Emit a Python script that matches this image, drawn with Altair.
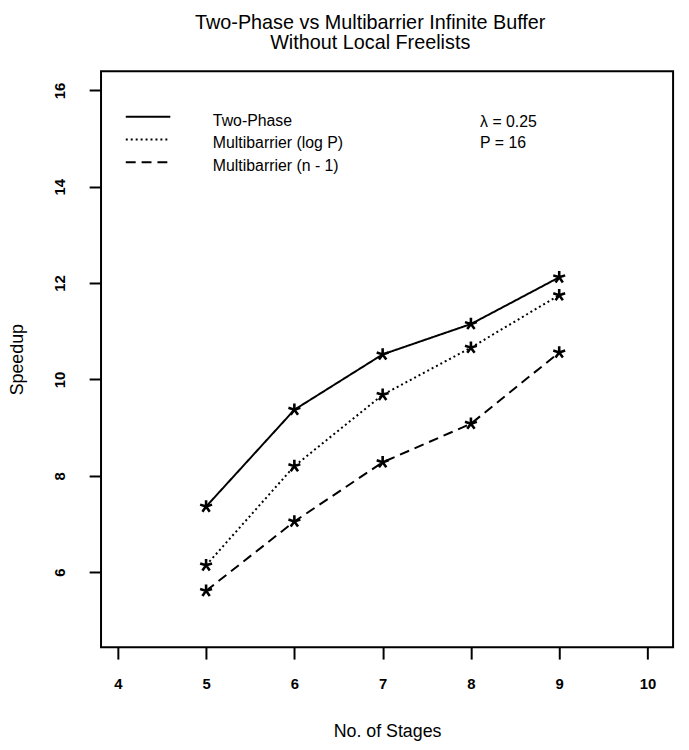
import altair as alt
import pandas as pd

# ---- data ----
stages = [5, 6, 7, 8, 9]
series_names = ["Two-Phase", "Multibarrier (log P)", "Multibarrier (n - 1)"]
two_phase = [7.36, 9.37, 10.52, 11.15, 12.12]
multi_logp = [6.14, 8.20, 9.68, 10.66, 11.75]
multi_n1 = [5.61, 7.05, 8.28, 9.08, 10.56]
x_ticks = [4, 5, 6, 7, 8, 9, 10]
y_ticks = [6, 8, 10, 12, 14, 16]
annotations = ["λ = 0.25", "P = 16"]

rows = []
for name, vals in zip(series_names, [two_phase, multi_logp, multi_n1]):
    for s, v in zip(stages, vals):
        rows.append({"stage": s, "speedup": v, "series": name})
df = pd.DataFrame(rows)
legend_df = pd.DataFrame({"series": series_names, "order": list(range(len(series_names)))})
ann_df = pd.DataFrame({"label": annotations, "order": list(range(len(annotations)))})

FONT = "Liberation Sans"
W, H = 578, 582

dash_scale = alt.Scale(domain=series_names, range=[[1, 0], [2, 3], [10, 6]])
x_scale = alt.Scale(domain=[3.81, 10.29], nice=False, zero=False)
y_scale = alt.Scale(domain=[4.44, 16.4], nice=False, zero=False)

lines = alt.Chart(df).mark_line(color="black", strokeWidth=2).encode(
    x=alt.X("stage:Q", scale=x_scale,
            axis=alt.Axis(values=x_ticks, title="No. of Stages", format="d")),
    y=alt.Y("speedup:Q", scale=y_scale,
            axis=alt.Axis(values=y_ticks, title="Speedup", format="d")),
    strokeDash=alt.StrokeDash("series:N", scale=dash_scale, legend=None),
    detail="series:N",
)

star = "M0,0L0,-1M0,0L0.951,-0.309M0,0L0.588,0.809M0,0L-0.588,0.809M0,0L-0.951,-0.309"
points = alt.Chart(df).mark_point(
    shape=star, filled=False, color="black", strokeWidth=2.6, size=160, opacity=1
).encode(
    x=alt.X("stage:Q", scale=x_scale),
    y=alt.Y("speedup:Q", scale=y_scale),
)

main = alt.layer(lines, points)

leg_y = alt.Y("order:Q", scale=alt.Scale(domain=[0, 2], range=[46, 92]), axis=None)
leg_lines = alt.Chart(legend_df).mark_rule(color="black", strokeWidth=2).encode(
    x=alt.value(25),
    x2=alt.value(70),
    y=leg_y,
    strokeDash=alt.StrokeDash("series:N", scale=dash_scale, legend=None),
)
leg_text = alt.Chart(legend_df).mark_text(
    align="left", baseline="middle", font=FONT, fontSize=16, color="black", dy=4
).encode(x=alt.value(113), y=leg_y, text="series:N")
legend = alt.layer(leg_lines, leg_text)

ann_y = alt.Y("order:Q", scale=alt.Scale(domain=[0, 1], range=[51, 73]), axis=None)
ann_text = alt.Chart(ann_df).mark_text(
    align="left", baseline="middle", font=FONT, fontSize=16, color="black"
).encode(x=alt.value(383), y=ann_y, text="label:N")

chart = (
    alt.layer(main, legend, ann_text)
    .resolve_scale(y="independent")
    .properties(
        width=W,
        height=H,
        autosize=alt.AutoSizeParams(type="none"),
        padding={"left": 94, "top": 60, "right": 8, "bottom": 100},
        title=alt.Title(
            ["Two-Phase vs Multibarrier Infinite Buffer", "Without Local Freelists"],
            font=FONT,
            fontSize=20,
            fontWeight="normal",
            lineHeight=21,
            anchor="middle",
            dx=-17,
            offset=18,
            color="black",
        ),
    )
    .configure_view(stroke="black", strokeWidth=2)
    .configure_axis(
        grid=False,
        domain=False,
        ticks=True,
        tickSize=12,
        tickWidth=2,
        tickColor="black",
        labelFont=FONT,
        labelFontSize=15,
        labelFontWeight="bold",
        labelColor="black",
        titleFont=FONT,
        titleFontSize=18,
        titleFontWeight="normal",
        titleColor="black",
    )
    .configure_axisX(labelPadding=18, titlePadding=31)
    .configure_axisY(labelAngle=270, labelAlign="center", labelBaseline="bottom",
                     labelPadding=22, titlePadding=26)
)

chart.save("out.html", embed_options={"renderer": "svg", "actions": False})
